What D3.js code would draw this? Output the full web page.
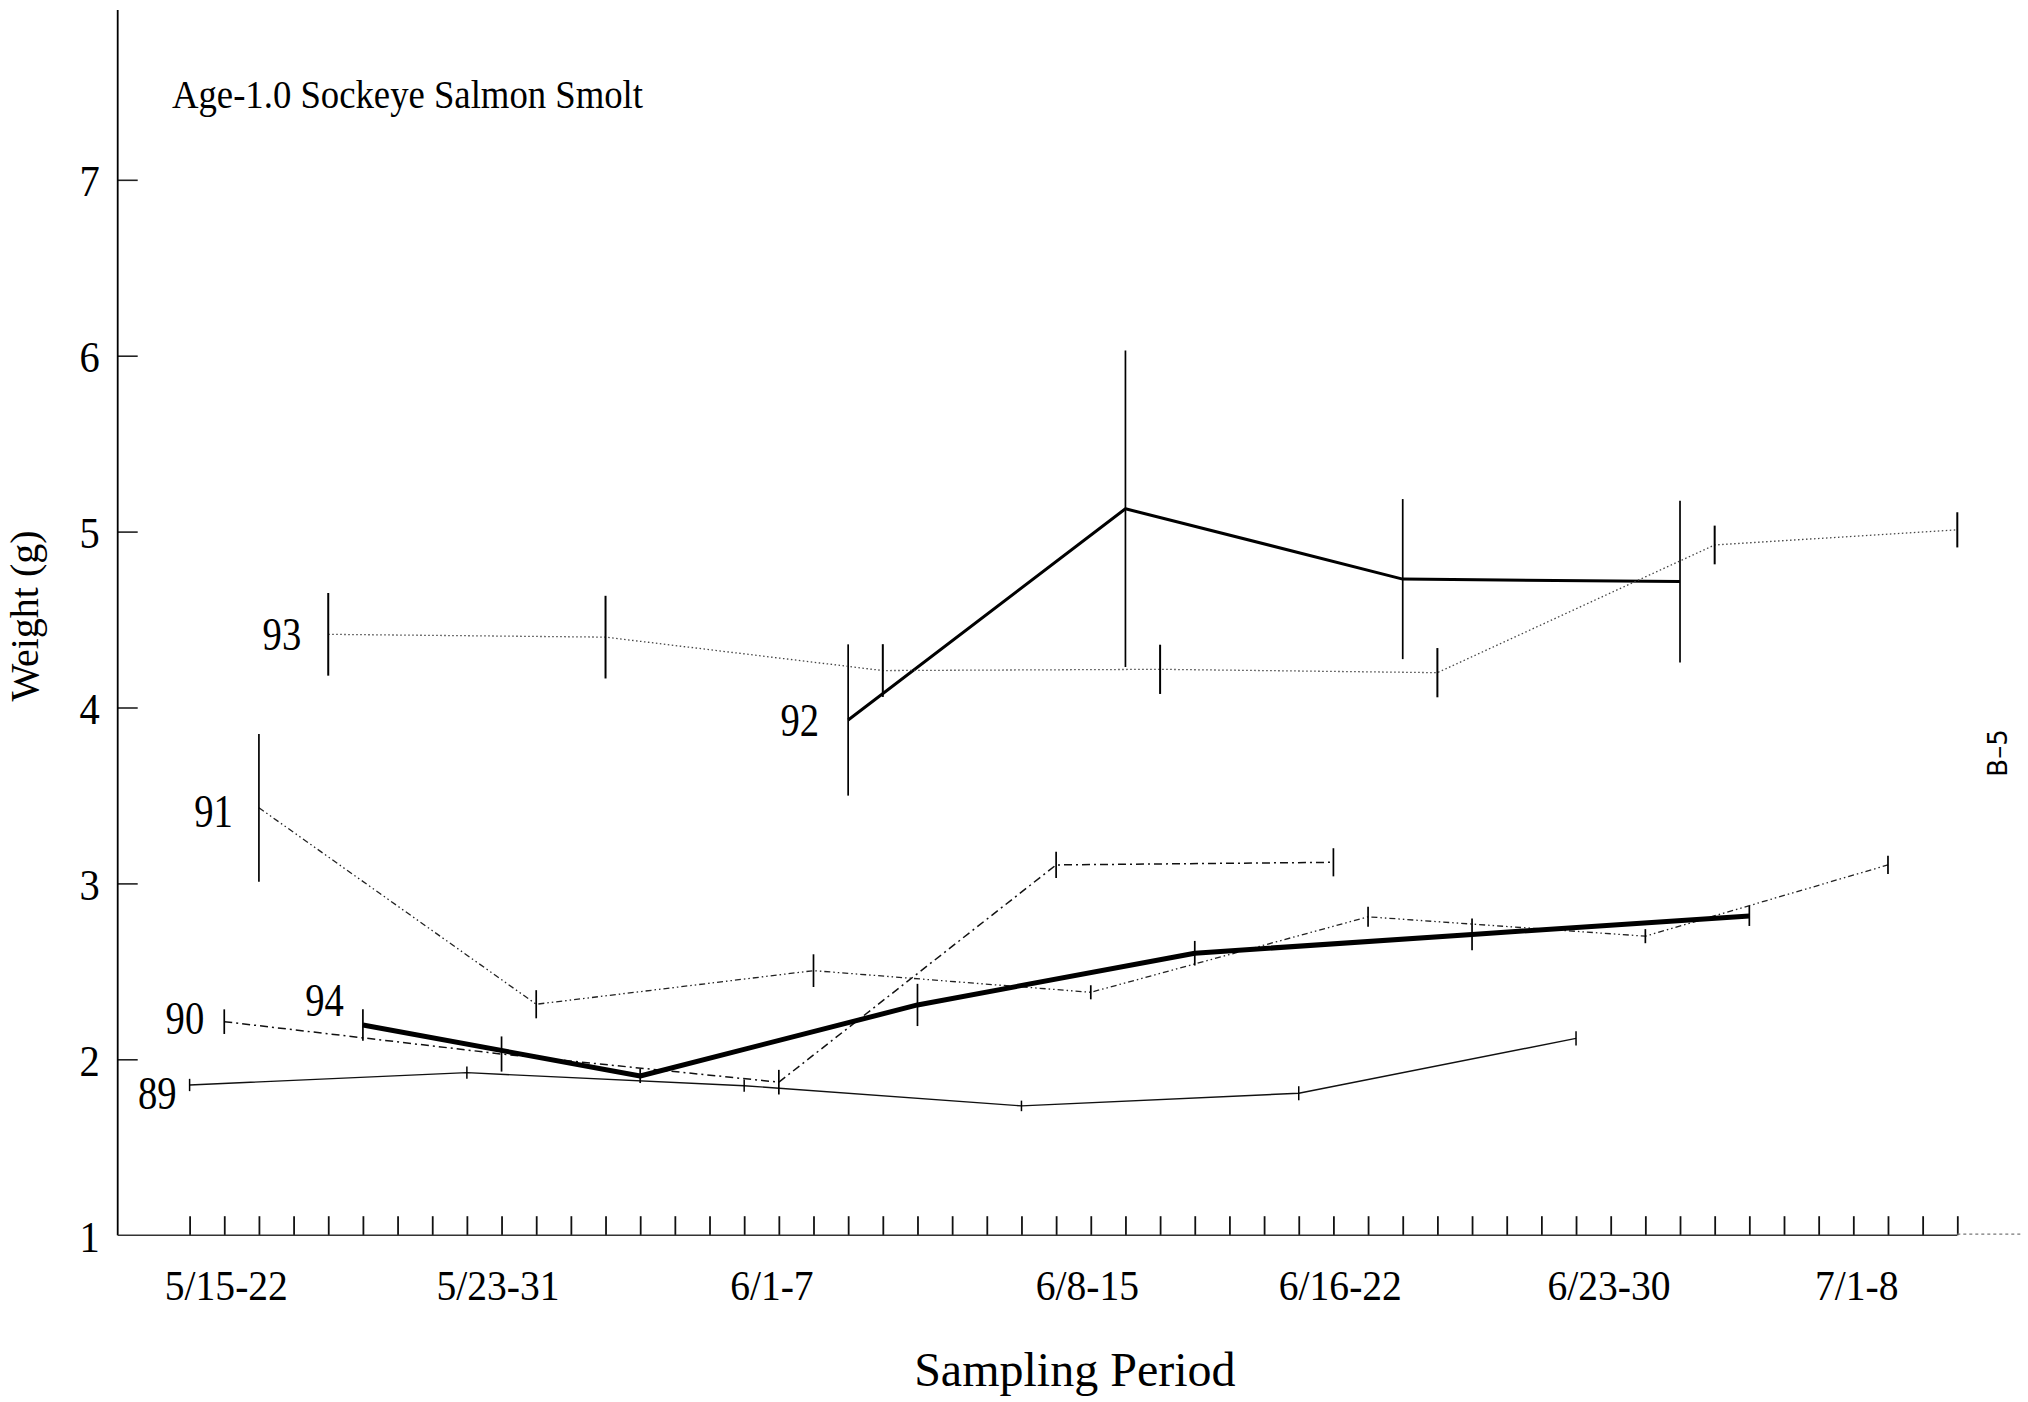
<!DOCTYPE html>
<html><head><meta charset="utf-8">
<script src="https://cdn.jsdelivr.net/npm/d3@7"></script>
<style>html,body{margin:0;padding:0;background:#fff;} svg{display:block}</style>
</head><body>
<svg id="chart" width="2028" height="1402"></svg>
<script>
// ---- data ----
const periods = ["5/15-22", "5/23-31", "6/1-7", "6/8-15", "6/16-22", "6/23-30", "7/1-8"];
const periodTick = [1.06, 8.9, 16.8, 25.9, 33.2, 40.95, 48.1];
const yTicks = [1, 2, 3, 4, 5, 6, 7];
const dayTicks = d3.range(0, 52);
const years = ["89", "90", "91", "92", "93", "94"];

const day89 = [0, 8, 16, 24, 32, 40];
const mean89 = [1.854, 1.924, 1.85, 1.735, 1.807, 2.119];
const se89 = [0.035, 0.035, 0.035, 0.03, 0.04, 0.04];

const day90 = [1, 9, 17, 25, 33];
const mean90 = [2.214, 2.03, 1.87, 3.105, 3.12];
const se90 = [0.07, 0.1, 0.07, 0.075, 0.08];

const day91 = [2, 10, 18, 26, 34, 42, 49];
const mean91 = [3.43, 2.313, 2.504, 2.381, 2.81, 2.70, 3.105];
const se91 = [0.42, 0.08, 0.093, 0.04, 0.057, 0.04, 0.052];

const day92 = [19, 27, 35, 43];
const mean92 = [3.929, 5.13, 4.73, 4.716];
const se92 = [0.43, 0.9, 0.455, 0.46];

const day93 = [4, 12, 20, 28, 36, 44, 51];
const mean93 = [4.416, 4.40, 4.21, 4.217, 4.198, 4.924, 5.01];
const se93 = [0.235, 0.235, 0.15, 0.14, 0.14, 0.11, 0.1];

const day94 = [5, 13, 21, 29, 37, 45];
const mean94 = [2.195, 1.905, 2.309, 2.603, 2.71, 2.815];
const se94 = [0.09, 0.04, 0.12, 0.07, 0.09, 0.057];

const seriesData = {
  "89": [day89, mean89, se89],
  "90": [day90, mean90, se90],
  "91": [day91, mean91, se91],
  "92": [day92, mean92, se92],
  "93": [day93, mean93, se93],
  "94": [day94, mean94, se94]
};

// ---- styles ----
const seriesStyle = {
  "89": {w: 1.4, dash: null, color: "#111", bar: 1.5, lab: [-13, 8]},
  "90": {w: 1.5, dash: "8,4,2,4", color: "#111", bar: 1.7, lab: [-20, -4]},
  "91": {w: 1.3, dash: "6,3,1.5,3,1.5,3", color: "#222", bar: 1.7, lab: [-26, 3]},
  "92": {w: 3, dash: null, color: "#000", bar: 1.7, lab: [-29, 0]},
  "93": {w: 1.3, dash: "1.5,2.5", color: "#444", bar: 2, lab: [-27, 0]},
  "94": {w: 5, dash: null, color: "#000", bar: 1.7, lab: [-19, -25]}
};
const serif = "'Liberation Serif', 'Times New Roman', serif";

// narrow the glyphs to mimic the condensed serif of the original
function condense(sel, f) {
  sel.each(function () {
    const len = this.getComputedTextLength();
    d3.select(this).attr("textLength", len * f).attr("lengthAdjust", "spacingAndGlyphs");
  });
}

const svg = d3.select("#chart");
const x = d3.scaleLinear().domain([0, 51]).range([189.6, 1957.3]);
const y = d3.scaleLinear().domain([1, 7]).range([1235.2, 179.8]);
const axisLeftX = 117.7;
const baseY = y(1);

// y axis
const gy = svg.append("g").attr("transform", `translate(${axisLeftX},0)`)
  .call(d3.axisLeft(y).tickValues(yTicks).tickSizeInner(-20).tickSizeOuter(0).tickPadding(18).tickFormat(d3.format("d")));
gy.select(".domain").remove();
gy.selectAll(".tick line").attr("stroke", "#222").attr("stroke-width", 1.6);
gy.selectAll(".tick").filter(d => d === 1).select("line").remove();
gy.selectAll(".tick text").attr("font-family", serif).attr("font-size", 44).attr("fill", "#000").attr("dy", "0.36em");
condense(gy.selectAll(".tick text"), 0.92);
svg.append("line").attr("x1", axisLeftX).attr("x2", axisLeftX).attr("y1", 10).attr("y2", baseY)
  .attr("stroke", "#000").attr("stroke-width", 1.8);

// x axis
const gx = svg.append("g").attr("transform", `translate(0,${baseY})`)
  .call(d3.axisBottom(x).tickValues(dayTicks).tickSizeInner(-19).tickSizeOuter(0).tickFormat(""));
gx.select(".domain").remove();
gx.selectAll(".tick line").attr("stroke", "#111").attr("stroke-width", 1.8);
svg.append("line").attr("x1", axisLeftX).attr("x2", x(51)).attr("y1", baseY).attr("y2", baseY)
  .attr("stroke", "#333").attr("stroke-width", 1.6);
svg.append("line").attr("x1", x(51)).attr("x2", 2022).attr("y1", baseY - 1).attr("y2", baseY - 1)
  .attr("stroke", "#777").attr("stroke-width", 1.2).attr("stroke-dasharray", "3,3");

// category labels
const cat = svg.append("g").selectAll("text").data(periods).join("text")
  .attr("x", (d, i) => x(periodTick[i])).attr("y", 1300)
  .attr("text-anchor", "middle").attr("font-family", serif).attr("font-size", 43).attr("fill", "#000")
  .text(d => d);
condense(cat, 0.92);

// axis titles
svg.append("text").attr("x", (axisLeftX + 2022) / 2 + 5).attr("y", 1386)
  .attr("text-anchor", "middle").attr("font-family", serif).attr("font-size", 48).attr("fill", "#000")
  .text("Sampling Period");
svg.append("text").attr("transform", "translate(38,616) rotate(-90)")
  .attr("text-anchor", "middle").attr("font-family", serif).attr("font-size", 40).attr("fill", "#000")
  .text("Weight (g)");
svg.append("text").attr("x", 172).attr("y", 108)
  .attr("font-family", serif).attr("font-size", 40).attr("textLength", 471).attr("lengthAdjust", "spacingAndGlyphs")
  .attr("fill", "#000").text("Age-1.0 Sockeye Salmon Smolt");
svg.append("text").attr("transform", "translate(2007,753) rotate(-90)")
  .attr("text-anchor", "middle").attr("font-family", "'DejaVu Sans', sans-serif").attr("font-size", 26).attr("fill", "#000")
  .text("B–5");

// series
const line = d3.line().x(d => x(d.t)).y(d => y(d.v));
years.forEach(yr => {
  const [days, means, ses] = seriesData[yr];
  const st = seriesStyle[yr];
  const pts = days.map((t, i) => ({t, v: means[i], e: ses[i]}));
  const g = svg.append("g");
  g.append("path").datum(pts).attr("d", line).attr("fill", "none")
    .attr("stroke", st.color).attr("stroke-width", st.w)
    .attr("stroke-dasharray", st.dash).attr("stroke-linejoin", "round");
  g.selectAll("line").data(pts).join("line")
    .attr("x1", d => x(d.t)).attr("x2", d => x(d.t))
    .attr("y1", d => y(d.v - d.e)).attr("y2", d => y(d.v + d.e))
    .attr("stroke", "#000").attr("stroke-width", st.bar);
  const lab = g.append("text").attr("x", x(pts[0].t) + st.lab[0]).attr("y", y(pts[0].v) + st.lab[1])
    .attr("text-anchor", "end").attr("dy", "0.35em")
    .attr("font-family", serif).attr("font-size", 46).attr("fill", "#000").text(yr);
  condense(lab, 0.84);
});
</script>
</body></html>
